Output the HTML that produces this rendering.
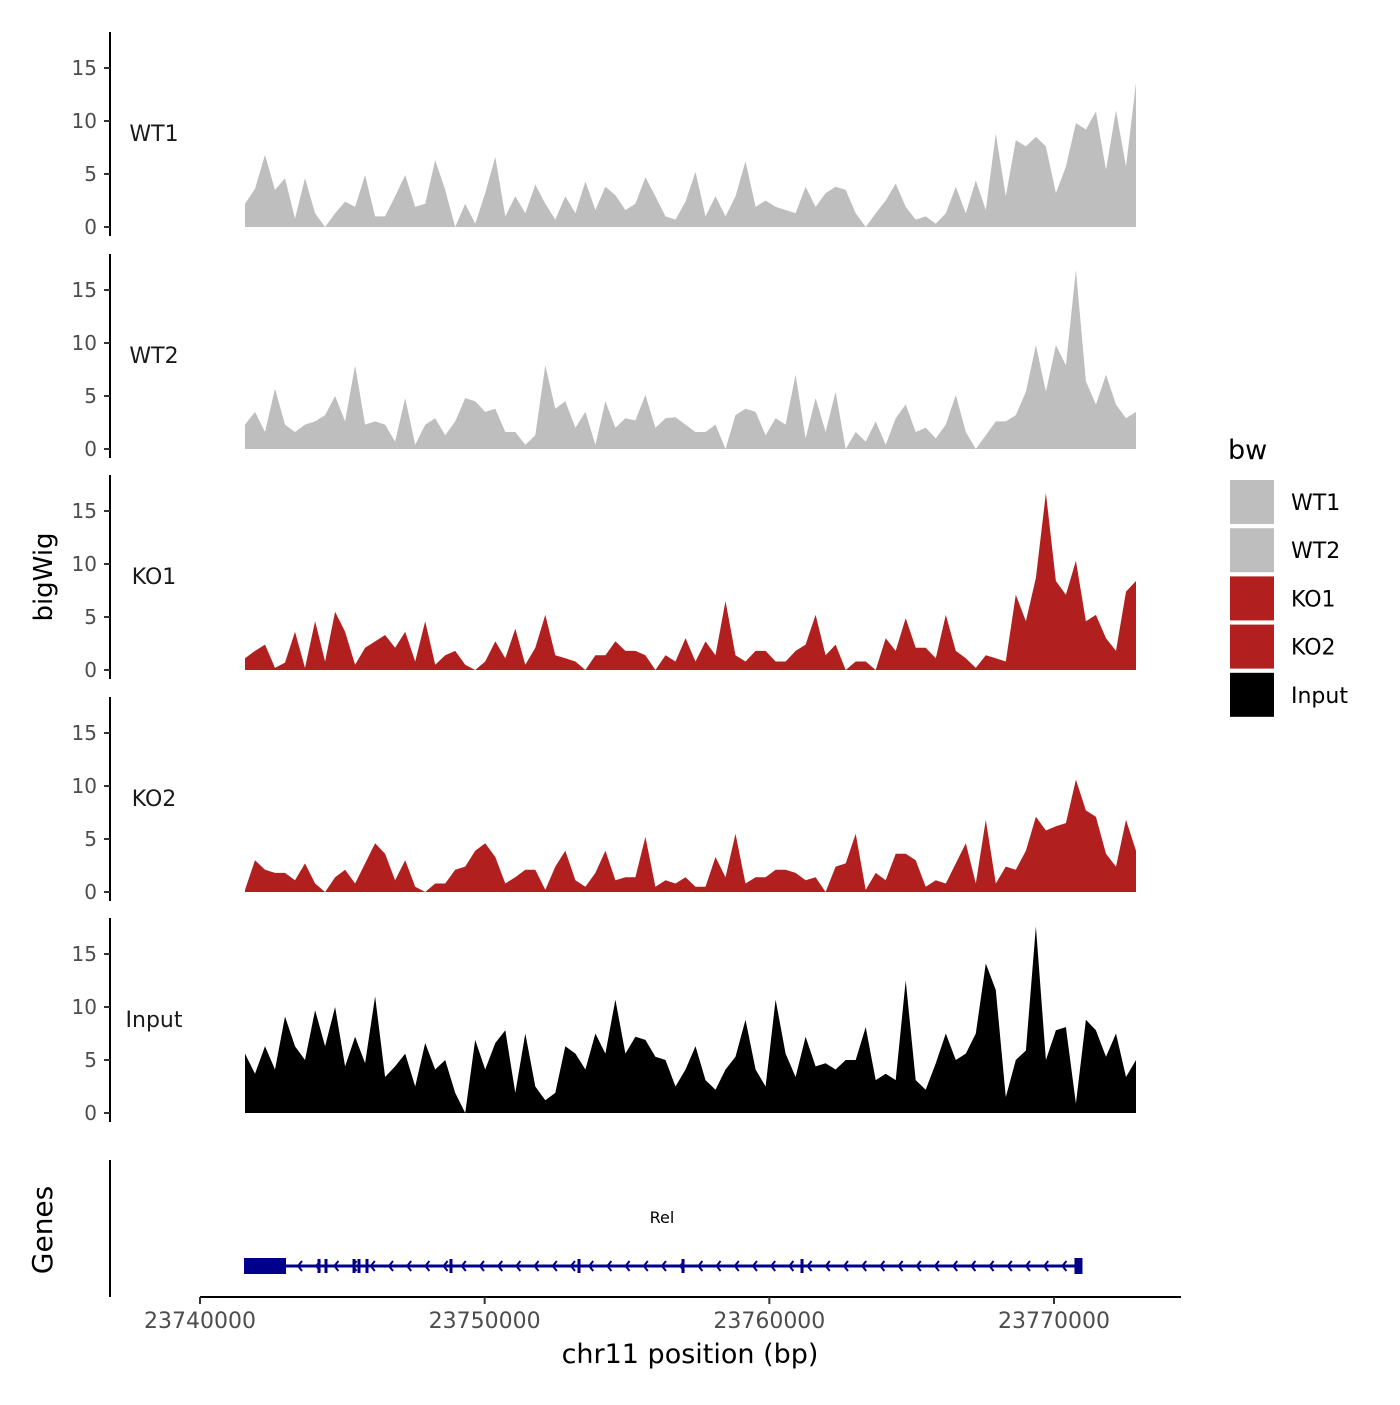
<!DOCTYPE html>
<html><head><meta charset="utf-8"><style>
body{margin:0;background:#fff;}
svg text{font-family:"DejaVu Sans","Liberation Sans",sans-serif;}
</style></head><body>
<svg id="chart" width="1400" height="1400" viewBox="0 0 1400 1400" xmlns="http://www.w3.org/2000/svg">
<rect width="1400" height="1400" fill="#fff"/>
</svg>
<script>
const trackNames = ["WT1","WT2","KO1","KO2","Input"];
const trackColors = ["#bebebe","#bebebe","#b21f1f","#b21f1f","#000000"];
const yTicks = [0,5,10,15];
const xTickValues = [23740000,23750000,23760000,23770000];
const xTickLabels = ["23740000","23750000","23760000","23770000"];
const dataStart = 23741580, dataEnd = 23772880;
const wt1 = [2.2,3.6,6.8,3.5,4.6,0.8,4.6,1.3,0,1.3,2.4,1.9,4.9,1,1,2.9,4.9,1.9,2.2,6.3,3.5,0,2.2,0.3,3.2,6.6,1,2.9,1.3,4,2.2,0.7,2.9,1.3,4.3,1.6,3.8,3,1.6,2.2,4.7,2.9,1,0.7,2.4,5.2,1,2.9,1,2.9,6.2,1.9,2.5,1.9,1.6,1.3,3.8,1.9,3.2,3.8,3.5,1.3,0,1.3,2.5,4.1,1.9,0.7,1,0.3,1.3,3.8,1.3,4.4,1.6,8.8,2.9,8.2,7.6,8.5,7.6,3.2,5.7,9.8,9.2,10.9,5.4,11,5.7,13.6];
const wt2 = [2.3,3.5,1.6,5.7,2.3,1.6,2.3,2.6,3.2,5,2.6,7.9,2.3,2.6,2.3,0.7,4.8,0.4,2.3,2.9,1.3,2.6,4.8,4.5,3.5,3.8,1.6,1.6,0.4,1.3,7.9,3.8,4.5,2,3.5,0.4,4.5,2,2.9,2.7,5.1,2,2.9,3,2.3,1.6,1.6,2.3,0,3.2,3.8,3.5,1.3,2.9,2.3,7,1,4.8,1.6,5.4,0,1.6,0.7,2.6,0.4,2.9,4.2,1.6,2,1,2.3,5.1,1.6,0,1.3,2.6,2.6,3.2,5.4,9.8,5.4,9.8,7.9,16.9,6.4,4.2,7,4.2,2.9,3.5];
const ko1 = [1.1,1.8,2.4,0.2,0.7,3.6,0.2,4.6,0.8,5.5,3.6,0.5,2.1,2.7,3.3,2.1,3.6,0.8,4.6,0.5,1.4,1.8,0.5,0,0.8,2.7,1.1,3.9,0.5,2.1,5.2,1.4,1.1,0.8,0,1.4,1.4,2.7,1.8,1.8,1.4,0,1.4,0.8,3,0.8,2.7,1.4,6.5,1.4,0.8,1.8,1.8,0.8,0.8,1.8,2.4,5.2,1.4,2.4,0,0.8,0.8,0,3,1.8,4.9,2.1,2.1,1.1,5.2,1.8,1.1,0.2,1.4,1.1,0.8,7.1,4.6,8.7,16.7,8.4,7.1,10.3,4.6,5.2,3,1.8,7.4,8.4];
const ko2 = [0.2,3,2.1,1.8,1.8,1.1,2.7,0.8,0,1.4,2.1,0.8,2.7,4.6,3.6,1.1,3,0.5,0,0.8,0.8,2.1,2.4,3.9,4.6,3.3,0.8,1.4,2.1,2.1,0.2,2.4,3.9,1.1,0.5,1.8,3.9,1.1,1.4,1.4,5.2,0.5,1.1,0.8,1.4,0.5,0.5,3.3,1.4,5.5,0.8,1.4,1.4,2.1,2.1,1.8,1.1,1.4,0,2.4,2.7,5.5,0.2,1.8,1.1,3.6,3.6,3,0.5,1.1,0.8,2.7,4.6,0.8,6.8,0.8,2.4,2.1,3.9,7.1,5.8,6.2,6.5,10.6,7.7,7.1,3.6,2.4,6.8,3.9];
const input = [5.6,3.7,6.3,4.1,9.1,6.3,5,9.7,6.3,10,4.4,7.2,4.7,11,3.4,4.4,5.6,2.5,6.6,4.1,5,1.9,0,6.9,4.1,6.6,7.8,1.9,7.5,2.5,1.2,1.9,6.3,5.6,4.1,7.5,5.6,10.7,5.6,7.2,6.9,5.3,5,2.5,4.1,6.3,3.1,2.2,4.1,5.3,8.8,4.1,2.5,10.7,5.6,3.4,7.2,4.4,4.7,4.1,5,5,8.1,3.1,3.7,3.1,12.5,3.1,2.2,4.7,7.5,5,5.6,7.5,14.1,11.6,1.5,5,5.9,17.6,5,7.8,8.1,0.9,8.8,7.8,5.3,7.5,3.4,5];
const seriesData = [wt1,wt2,ko1,ko2,input];
const geneStart = 23741546, geneEnd = 23771000;
const geneExons = [23744180,23744426,23745410,23745585,23745866,23748817,23753314,23756967,23761148];

const svg = document.getElementById('chart');
const NS = 'http://www.w3.org/2000/svg';
function mk(tag, attrs, parent){const e=document.createElementNS(NS,tag);for(const k in attrs)e.setAttribute(k,attrs[k]);(parent||svg).appendChild(e);return e;}
function xScale(bp){return 200 + (bp-23740000)*(854/30000);}
const zeroYs=[227,449,670,892,1113];
const unit=10.6;
function yScale(p,v){return zeroYs[p]-v*unit;}

seriesData.forEach((arr,p)=>{
  const g=mk('g',{});
  
  
  const ax=mk('line',{x1:110,x2:110,y1:zeroYs[p]-195,y2:zeroYs[p]+9,stroke:'#000','stroke-width':2},g);
  
  
  yTicks.forEach(t=>{
    mk('line',{x1:104,x2:110,y1:yScale(p,t),y2:yScale(p,t),stroke:'#333','stroke-width':2},g);
    const tl=mk('text',{x:97,y:yScale(p,t)+7,'text-anchor':'end','font-size':20,fill:'#4d4d4d'},g);
    tl.textContent=t;
    
    
  });
  const lab=mk('text',{x:154,y:zeroYs[p]-86,'text-anchor':'middle','font-size':22,fill:'#1a1a1a'},g);
  lab.textContent=trackNames[p];
  
  
  const n=arr.length, step=(dataEnd-dataStart)/(n-1);
  let seg=[];
  const flush=()=>{
    if(seg.length>1){
      let d='M'+seg[0][0]+','+zeroYs[p];
      seg.forEach(q=>{d+=' L'+q[0]+','+q[1];});
      d+=' L'+seg[seg.length-1][0]+','+zeroYs[p]+' Z';
      const a=mk('path',{d:d,fill:trackColors[p]},g);
      
      
    }
    seg=[];
  };
  arr.forEach((v,i)=>{
    if(v===null){flush();return;}
    seg.push([xScale(dataStart+i*step).toFixed(1),yScale(p,v).toFixed(1)]);
  });
  flush();
});

const yt=mk('text',{x:0,y:0,transform:'translate(52,577) rotate(-90)','text-anchor':'middle','font-size':26,fill:'#000'});
yt.textContent='bigWig';



const gax=mk('line',{x1:110,x2:110,y1:1160,y2:1297,stroke:'#000','stroke-width':2});


const gt=mk('text',{x:0,y:0,transform:'translate(52,1230) rotate(-90)','text-anchor':'middle','font-size':28,fill:'#000'});
gt.textContent='Genes';


const gg=mk('g',{});


const gx0=xScale(geneStart), gx1=xScale(geneEnd);
mk('line',{x1:gx0,x2:gx1,y1:1266,y2:1266,stroke:'#00008b','stroke-width':3},gg);
for(let x=298;x<gx1-6;x+=18.2){
  mk('polyline',{points:(x+4)+',1261 '+x+',1266 '+(x+4)+',1271',fill:'none',stroke:'#00008b','stroke-width':2},gg);
}
mk('rect',{x:gx0,y:1258,width:42,height:16,fill:'#00008b'},gg);
geneExons.forEach(b=>{
  mk('rect',{x:xScale(b)-1.5,y:1259,width:3,height:14,fill:'#00008b'},gg);
});
mk('rect',{x:gx1-8,y:1258,width:8,height:16,fill:'#00008b'},gg);
const rel=mk('text',{x:662,y:1223,'text-anchor':'middle','font-size':16,fill:'#000'},gg);
rel.textContent='Rel';



const xa=mk('line',{x1:200,x2:1181,y1:1297,y2:1297,stroke:'#000','stroke-width':2});


xTickValues.forEach((v,i)=>{
  mk('line',{x1:xScale(v),x2:xScale(v),y1:1297,y2:1304,stroke:'#333','stroke-width':2});
  const t=mk('text',{x:xScale(v),y:1328,'text-anchor':'middle','font-size':22,fill:'#4d4d4d'});
  t.textContent=xTickLabels[i];
  
  
});
const xt=mk('text',{x:690,y:1363,'text-anchor':'middle','font-size':27,fill:'#000'});
xt.textContent='chr11 position (bp)';



const lg=mk('g',{});


const lt=mk('text',{x:1228,y:459,'font-size':27,fill:'#000'},lg);
lt.textContent='bw';


trackNames.forEach((nm,i)=>{
  const e=mk('g',{},lg);
  
  
  mk('rect',{x:1230,y:480+i*48.2,width:44,height:44,fill:trackColors[i]},e);
  const t=mk('text',{x:1291,y:510+i*48.2,'font-size':22,fill:'#000'},e);
  t.textContent=nm;
});
</script>
</body></html>
